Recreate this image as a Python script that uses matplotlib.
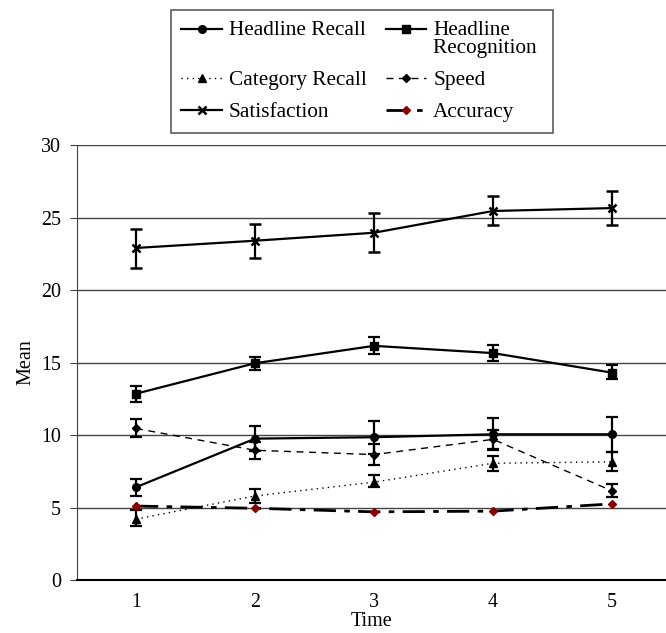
import numpy as np
import matplotlib.pyplot as plt
from matplotlib.legend_handler import HandlerLine2D

plt.rcParams['font.family'] = ['Liberation Serif', 'DejaVu Serif']

time = [1, 2, 3, 4, 5]

satisfaction = [22.9, 23.4, 23.95, 25.45, 25.65]
satisfaction_lo = [21.5, 22.2, 22.6, 24.5, 24.5]
satisfaction_hi = [24.2, 24.55, 25.3, 26.5, 26.8]

recognition = [12.85, 14.95, 16.15, 15.65, 14.3]
recognition_lo = [12.3, 14.5, 15.6, 15.1, 13.85]
recognition_hi = [13.4, 15.4, 16.75, 16.2, 14.8]

recall = [6.4, 9.75, 9.85, 10.05, 10.05]
recall_lo = [5.8, 8.9, 8.7, 9.0, 8.8]
recall_hi = [7.0, 10.6, 10.95, 11.15, 11.25]

speed = [10.45, 8.95, 8.65, 9.7, 6.15]
speed_lo = [9.85, 8.35, 7.9, 9.05, 5.7]
speed_hi = [11.1, 9.55, 9.35, 10.35, 6.65]

category = [4.2, 5.8, 6.75, 8.05, 8.15]
category_lo = [3.7, 5.3, 6.4, 7.55, 7.55]
category_hi = [4.8, 6.25, 7.25, 8.55, 8.85]

accuracy = [5.1, 4.95, 4.7, 4.75, 5.25]


def yerr(mid, lo, hi):
    mid = np.array(mid)
    return [mid - np.array(lo), np.array(hi) - mid]


class RaisedLine(HandlerLine2D):
    """Line handler that sits on the first line of a two-line label."""
    def __init__(self, shift, **kw):
        super().__init__(**kw)
        self.shift = shift

    def create_artists(self, legend, orig_handle, xdescent, ydescent,
                       width, height, fontsize, trans):
        return super().create_artists(legend, orig_handle, xdescent,
                                      ydescent - 2 * self.shift, width, height,
                                      fontsize, trans)


fig = plt.figure(figsize=(6.66, 6.33), dpi=100)
ax = fig.add_axes([0.1149, 0.0837, 0.8851, 0.6872])

eb = dict(ecolor='black', elinewidth=1.6, capsize=4, capthick=1.6, color='black')

h1 = ax.errorbar(time, recall, yerr=yerr(recall, recall_lo, recall_hi),
                 marker='o', ms=5.5, lw=1.6, ls='-', **eb)
h2 = ax.errorbar(time, recognition, yerr=yerr(recognition, recognition_lo, recognition_hi),
                 marker='s', ms=5.5, lw=1.6, ls='-', **eb)
h3 = ax.errorbar(time, category, yerr=yerr(category, category_lo, category_hi),
                 marker='^', ms=5.5, lw=1.0, ls=(0, (1, 3)), **eb)
h4 = ax.errorbar(time, speed, yerr=yerr(speed, speed_lo, speed_hi),
                 marker='D', ms=4.5, lw=1.0, ls=(0, (5, 4)), **eb)
h5 = ax.errorbar(time, satisfaction, yerr=yerr(satisfaction, satisfaction_lo, satisfaction_hi),
                 marker='x', ms=5.5, mew=1.8, lw=1.6, ls='-', **eb)
h6, = ax.plot(time, accuracy, color='black', lw=2.0, ls=(0, (8, 3, 2, 3)),
              marker='D', ms=4.5, mfc='#8b0000', mec='#8b0000')

ax.set_xlim(0.5, 5.454)
ax.set_ylim(0, 30)
ax.set_yticks(range(0, 31, 5))
ax.set_xticks(time)
ax.yaxis.grid(True, color='#444444', lw=1.0)
ax.set_axisbelow(True)
for s in ['top', 'right']:
    ax.spines[s].set_visible(False)
ax.spines['left'].set_color('#444444')
ax.spines['bottom'].set_linewidth(1.5)
ax.tick_params(axis='y', direction='out', length=5, labelsize=14.4, color='#444444', pad=6)
ax.tick_params(axis='x', length=0, labelsize=14.4, pad=9)
ax.set_xlabel('Time', fontsize=14.5, labelpad=0)
ax.set_ylabel('Mean', fontsize=14.5, labelpad=4)

# legend fills column-wise, so order handles to read row-wise
handles = [h1[0], h3[0], h5[0], h2[0], h4[0], h6]
labels = ['Headline Recall\n ', 'Category Recall', 'Satisfaction',
          'Headline\nRecognition ', 'Speed', 'Accuracy']
raised = RaisedLine(7.0)
leg = fig.legend(handles, labels, ncol=2, loc='upper left',
                 bbox_to_anchor=(0.2565, 0.984), borderaxespad=0, fontsize=15.3,
                 frameon=True, fancybox=False, edgecolor='#333333',
                 handlelength=1.9, handletextpad=0.33, columnspacing=0.9,
                 labelspacing=0.58, borderpad=0.5,
                 handler_map={h1[0]: raised, h2[0]: raised})
leg.get_frame().set_linewidth(1.2)
for t in leg.get_texts():
    t.set_linespacing(0.95)

fig.savefig('out.png', dpi=100)
